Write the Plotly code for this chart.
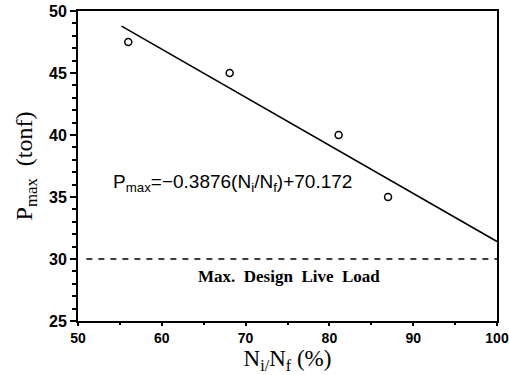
import plotly.graph_objects as go

# Data
ratio_pct = [56.0, 68.1, 81.1, 87.0]
p_max = [47.5, 45.0, 40.0, 35.0]
fit_x = [55.2, 100.0]
slope = -0.3876
intercept = 70.172
fit_y = [slope * v + intercept for v in fit_x]
design_load_x = [51.0, 100.0]
design_load_y = [30.0, 30.0]

fig = go.Figure()
fig.add_trace(go.Scatter(x=fit_x, y=fit_y, mode="lines",
                         line=dict(color="black", width=1.6), showlegend=False))
fig.add_trace(go.Scatter(x=design_load_x, y=design_load_y, mode="lines",
                         line=dict(color="black", width=1.4, dash="6px,6px"), showlegend=False))
fig.add_trace(go.Scatter(x=ratio_pct, y=p_max, mode="markers",
                         marker=dict(symbol="circle-open", size=7, color="black",
                                     line=dict(width=1.5, color="black")),
                         showlegend=False))

fig.add_annotation(x=68.4, y=36.1, xref="x", yref="y",
                   text="P<sub>max</sub>=−0.3876(N<sub>i</sub>/N<sub>f</sub>)+70.172",
                   showarrow=False, font=dict(family="Liberation Sans", size=19, color="black"))
fig.add_annotation(x=75.2, y=28.6, xref="x", yref="y",
                   text="<b>Max.  Design  Live  Load</b>",
                   showarrow=False, font=dict(family="Liberation Serif", size=17, color="black"))

fig.update_layout(
    width=509, height=375,
    margin=dict(l=78, r=12, t=11, b=54),
    paper_bgcolor="white", plot_bgcolor="white",
)
fig.update_xaxes(range=[50, 100], tickvals=[50, 60, 70, 80, 90, 100], automargin=False,
                 ticklabeloverflow="allow",
                 showline=True, linecolor="black", linewidth=2, mirror=True,
                 ticks="outside", ticklen=3, tickwidth=1.5, tickcolor="black",
                 minor=dict(dtick=5, ticks="outside", ticklen=2, tickcolor="black"),
                 showgrid=False, zeroline=False,
                 tickfont=dict(family="Liberation Sans", size=14, color="black", weight="bold"),
                 title=dict(text="N<sub>i/</sub>N<sub>f</sub> (%)", standoff=2,
                            font=dict(family="Liberation Serif", size=23, color="black")))
fig.update_yaxes(range=[25, 50], tickvals=[25, 30, 35, 40, 45, 50], automargin=False,
                 ticklabeloverflow="allow",
                 showline=True, linecolor="black", linewidth=2, mirror=True,
                 ticks="outside", ticklen=6, tickwidth=1.5, tickcolor="black",
                 minor=dict(dtick=1, ticks="outside", ticklen=4, tickcolor="black"),
                 showgrid=False, zeroline=False,
                 tickfont=dict(family="Liberation Sans", size=16, color="black", weight="bold"),
                 title=dict(text="P<sub>max</sub>  (tonf)", standoff=10,
                            font=dict(family="Liberation Serif", size=24, color="black")))

fig.write_html("out.html", config={"displayModeBar": False},
               post_script="document.body.style.margin='0';document.body.style.overflow='hidden';")
